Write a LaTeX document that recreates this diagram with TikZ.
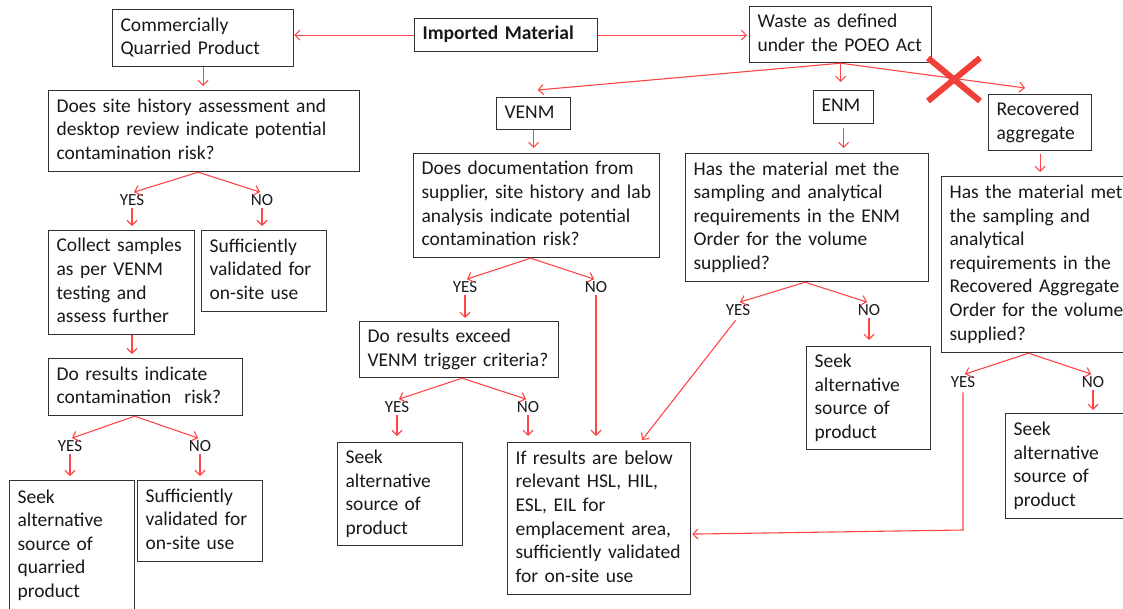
\documentclass[tikz,border=0pt]{standalone}
\usepackage{fontspec}
\setmainfont{Carlito}
\usetikzlibrary{arrows.meta,calc}
\definecolor{linered}{RGB}{255,70,70}
\definecolor{xred}{RGB}{240,62,56}
\definecolor{boxgray}{RGB}{50,50,50}
\definecolor{txtcol}{RGB}{25,25,25}
\newcommand\mainfs{\fontsize{19.5}{23.6}\selectfont}
\newcommand\lblfs{\fontsize{17}{20}\selectfont}
\newcommand\lns[1]{\begin{tabular}{@{}l@{}}#1\end{tabular}}
\begin{document}
\begin{tikzpicture}[x=1pt,y=-1pt,
 box/.style={draw=boxgray, line width=1.2pt, anchor=north west, inner xsep=8pt, inner ysep=0pt, font=\mainfs, text=txtcol, align=left},
 lbl/.style={font=\lblfs, text=txtcol, inner sep=1.5pt},
 conn/.style={draw=linered, line width=1.1pt, -{Straight Barb[length=5pt,width=10pt]}},
 xmark/.style={draw=xred, line width=6pt}]
\useasboundingbox (0,0) rectangle (1123,608);
\fill[white] (0,0) rectangle (1123,608);

% boxes
\node[box, text width=165pt, minimum height=57pt] (cqp) at (112,9) {\lns{Commercially\\Quarried Product}};
\node[box, text width=167pt, minimum height=33pt] (imp) at (414,18) {\lns{\bfseries Imported Material}};
\node[box, text width=166pt, minimum height=56pt] (waste) at (749,6) {\lns{Waste as defined\\under the POEO Act}};
\node[box, text width=295pt, minimum height=81pt] (q1) at (48,90) {\lns{Does site history assessment and\\desktop review indicate potential\\contamination risk?}};
\node[box, text width=58pt, minimum height=32pt] (venm) at (496,97) {\lns{VENM}};
\node[box, text width=44pt, minimum height=33pt] (enm) at (813,90) {\lns{ENM}};
\node[box, text width=87pt, minimum height=56pt] (rec) at (988,94) {\lns{Recovered\\aggregate}};
\node[box, text width=230pt, minimum height=104pt] (q2) at (413,153) {\lns{Does documentation from\\supplier, site history and lab\\analysis indicate potential\\contamination risk?}};
\node[box, text width=227pt, minimum height=128pt] (q3) at (685,153) {\lns{Has the material met the\\sampling and analytical\\requirements in the ENM\\Order for the volume\\supplied?}};
\node[box, text width=184pt, minimum height=176pt] (q4) at (941,176) {\lns{Has the material met\\the sampling and\\analytical\\requirements in the\\Recovered Aggregate\\Order for the volume\\supplied?}};
\node[box, text width=130pt, minimum height=104pt] (collect) at (48,230) {\lns{Collect samples\\as per VENM\\testing and\\assess further}};
\node[box, text width=109pt, minimum height=81pt] (suff1) at (201,230) {\lns{Sufficiently\\validated for\\on-site use}};
\node[box, text width=178pt, minimum height=57pt] (q5) at (48,358) {\lns{Do results indicate\\contamination~ risk?}};
\node[box, text width=109pt, minimum height=130pt] (seek1) at (9,480) {\lns{Seek\\alternative\\source of\\quarried\\product}};
\node[box, text width=109pt, minimum height=81pt] (suff2) at (137,480) {\lns{Sufficiently\\validated for\\on-site use}};
\node[box, text width=183pt, minimum height=56pt] (q6) at (359,321) {\lns{Do results exceed\\VENM trigger criteria?}};
\node[box, text width=167pt, minimum height=152pt] (ifres) at (507,442) {\lns{If results are below\\relevant HSL, HIL,\\ESL, EIL for\\emplacement area,\\sufficiently validated\\for on-site use}};
\node[box, text width=109pt, minimum height=103pt] (seek2) at (337,442) {\lns{Seek\\alternative\\source of\\product}};
\node[box, text width=108pt, minimum height=103pt] (seek3) at (806,346) {\lns{Seek\\alternative\\source of\\product}};
\node[box, text width=114pt, minimum height=105pt] (seek4) at (1005,413) {\lns{Seek\\alternative\\source of\\product}};

% labels
\node[lbl] (y1) at (132,200) {YES};
\node[lbl] (n1) at (262,200) {NO};
\node[lbl] (y2) at (70,446) {YES};
\node[lbl] (n2) at (200,446) {NO};
\node[lbl] (y3) at (465,287) {YES};
\node[lbl] (n3) at (596,287) {NO};
\node[lbl] (y4) at (397,407) {YES};
\node[lbl] (n4) at (528,407) {NO};
\node[lbl] (y5) at (738,310) {YES};
\node[lbl] (n5) at (869,310) {NO};
\node[lbl] (y6) at (963,382) {YES};
\node[lbl] (n6) at (1093,382) {NO};

\coordinate (turn) at (963,530);

% top connectors
\draw[conn] (imp.west) -- (cqp.east |- imp.west);
\draw[conn, shorten >=2pt] (imp.east) -- (waste.west |- imp.east);
\draw[conn, shorten >=4pt] (cqp.south) -- (q1.north -| cqp.south);
\draw[conn] (waste.south) -- ($(venm.north)+(4,-7)$);
\draw[conn, shorten >=8pt] (waste.south) -- (enm.north -| waste.south);
\draw[conn] (waste.south) -- ($(rec.north)+(-15,-6)$);
\draw[conn, shorten >=5pt] (venm.south) -- (q2.north -| venm.south);
\draw[conn, shorten <=4pt, shorten >=5pt] (enm.south) -- (q3.north -| enm.south);
\draw[conn, shorten <=3pt, shorten >=4pt] (rec.south) -- (q4.north -| rec.south);

% left column
\draw[conn, shorten >=2pt] ($(q1.south)+(-6,0)$) -- (y1.north);
\draw[conn, shorten >=2pt] ($(q1.south)+(-6,0)$) -- (n1.north);
\draw[conn, shorten <=1pt, shorten >=4pt] (y1.south) -- (collect.north -| y1.south);
\draw[conn, shorten <=1pt, shorten >=4pt] (n1.south) -- (suff1.north -| n1.south);
\draw[conn, shorten >=4pt] (collect.south -| y1.south) -- (q5.north -| y1.south);
\draw[conn, shorten >=2pt] ($(q5.south)+(-11,0)$) -- (y2.north);
\draw[conn, shorten >=2pt] ($(q5.south)+(-11,0)$) -- (n2.north);
\draw[conn, shorten <=1pt, shorten >=4pt] (y2.south) -- (seek1.north -| y2.south);
\draw[conn, shorten <=1pt, shorten >=4pt] (n2.south) -- (suff2.north -| n2.south);

% VENM column
\draw[conn, shorten >=2pt] ($(q2.south)+(-6,0)$) -- (y3.north);
\draw[conn, shorten >=2pt] ($(q2.south)+(-6,0)$) -- (n3.north);
\draw[conn, shorten <=1pt, shorten >=3pt] (y3.south) -- (q6.north -| y3.south);
\draw[conn, shorten <=1pt, shorten >=6pt] (n3.south) -- (ifres.north -| n3.south);
\draw[conn, shorten >=2pt] ($(q6.south)+(3,0)$) -- (y4.north);
\draw[conn, shorten >=2pt] ($(q6.south)+(3,0)$) -- (n4.north);
\draw[conn, shorten <=1pt, shorten >=6pt] (y4.south) -- (seek2.north -| y4.south);
\draw[conn, shorten <=1pt, shorten >=6pt] (n4.south) -- (ifres.north -| n4.south);

% ENM column
\draw[conn, shorten >=2pt] ($(q3.south)+(-2,0)$) -- (y5.north);
\draw[conn, shorten >=2pt] ($(q3.south)+(-2,0)$) -- (n5.north);
\draw[conn, shorten <=4pt] (y5.south) -- ($(ifres.north west)+(135,-2)$);
\draw[conn, shorten <=1pt, shorten >=6pt] (n5.south) -- (seek3.north -| n5.south);

% Recovered aggregate column
\draw[conn, shorten >=2pt] ($(q4.south)+(-13,0)$) -- (y6.north);
\draw[conn, shorten >=2pt] ($(q4.south)+(-13,0)$) -- (n6.north);
\draw[conn, shorten <=3pt] (y6.south) -- (turn) -- ($(ifres.east)+(1,15.5)$);
\draw[conn, shorten <=1pt, shorten >=3pt] (n6.south) -- (seek4.north -| n6.south);

% cross
\draw[xmark] (928,58) -- (980,101);
\draw[xmark] (928,101) -- (980,58);
\end{tikzpicture}
\end{document}
